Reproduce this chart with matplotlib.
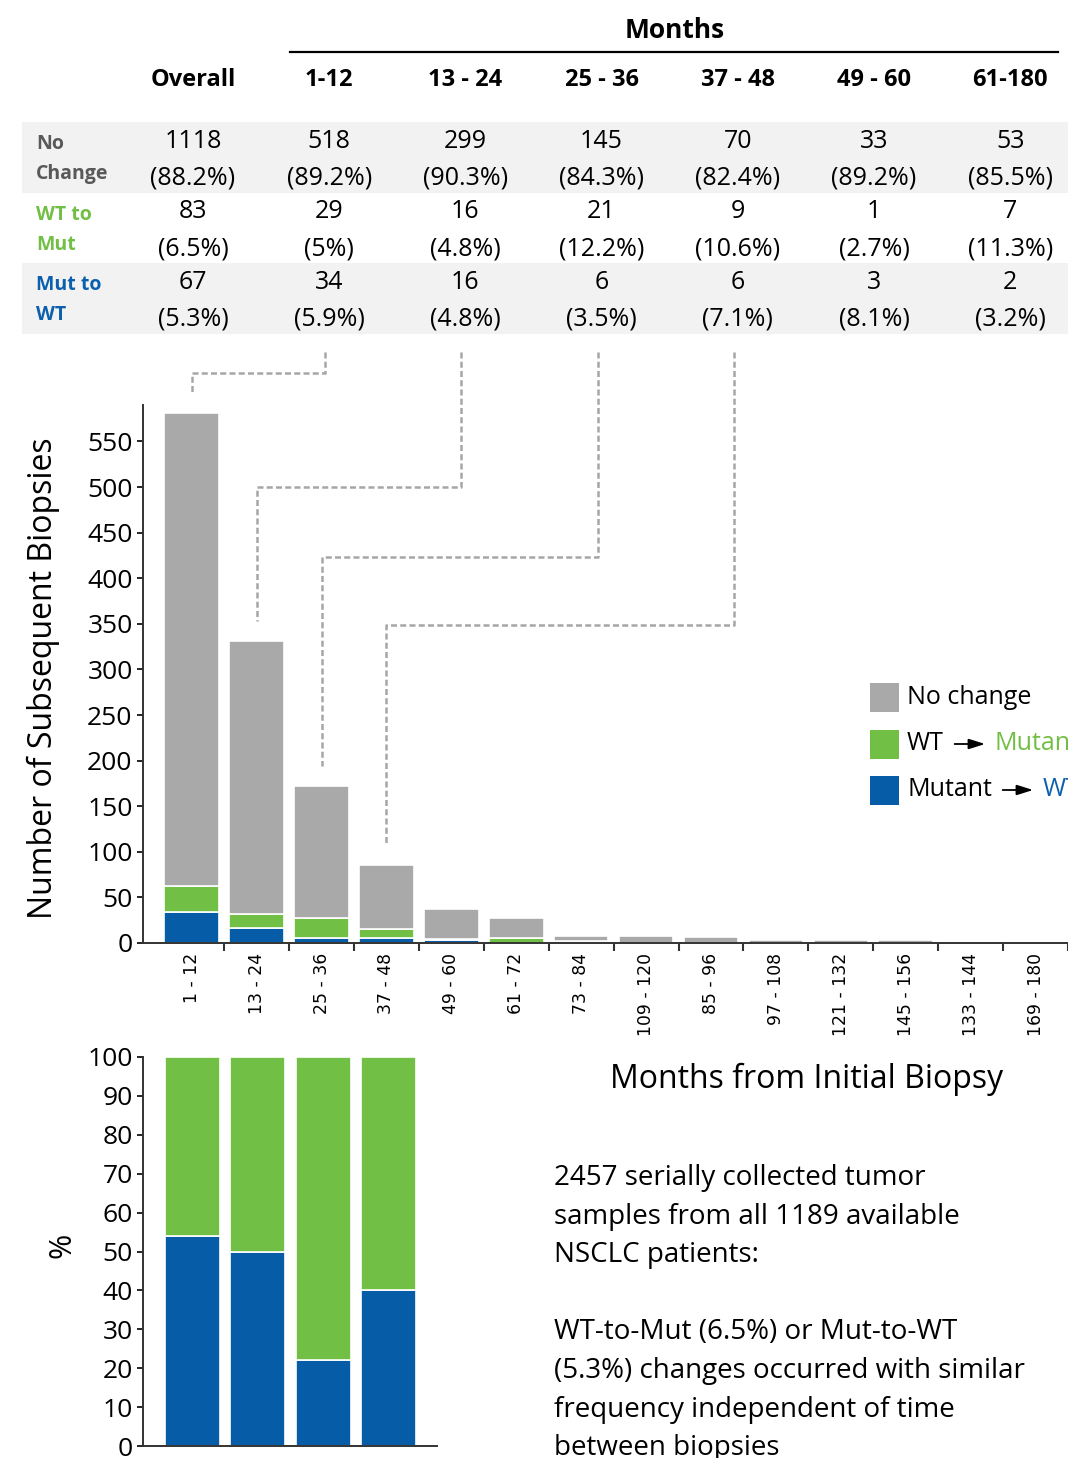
import matplotlib
matplotlib.use('Agg')
import matplotlib.pyplot as plt
from matplotlib.patches import Rectangle, FancyArrowPatch
from matplotlib.lines import Line2D

W, H = 1068, 1458

# summary table
col_labels = ['Overall', '1-12', '13 - 24', '25 - 36', '37 - 48', '49 - 60', '61-180']
row_labels = [('No', 'Change'), ('WT to', 'Mut'), ('Mut to', 'WT')]
no_change_n = [1118, 518, 299, 145, 70, 33, 53]
no_change_pct = ['88.2%', '89.2%', '90.3%', '84.3%', '82.4%', '89.2%', '85.5%']
wt_mut_n = [83, 29, 16, 21, 9, 1, 7]
wt_mut_pct = ['6.5%', '5%', '4.8%', '12.2%', '10.6%', '2.7%', '11.3%']
mut_wt_n = [67, 34, 16, 6, 6, 3, 2]
mut_wt_pct = ['5.3%', '5.9%', '4.8%', '3.5%', '7.1%', '8.1%', '3.2%']

# stacked bar chart (months from initial biopsy)
bins = ['1 - 12', '13 - 24', '25 - 36', '37 - 48', '49 - 60', '61 - 72', '73 - 84',
        '109 - 120', '85 - 96', '97 - 108', '121 - 132', '145 - 156', '133 - 144', '169 - 180']
mut_to_wt = [34, 16, 6, 6, 3, 0, 0, 0, 0, 0, 0, 0, 0, 0]
wt_to_mut = [29, 16, 21, 9, 1, 6, 2, 0, 0, 0, 0, 0, 0, 0]
no_change = [518, 299, 145, 70, 33, 21, 6, 8, 7, 3.5, 3.5, 3.5, 1, 1]

GRAY = '#a9a9a9'
GREEN = '#72bf45'
BLUE = '#075ca8'
LBL_GRAY = '#595959'
LBL_BLUE = '#0b5fad'

plt.rcParams['font.family'] = ['Open Sans', 'DejaVu Sans']


def fx(x):
    return x / W


def fy(y):
    return 1 - y / H


fig = plt.figure(figsize=(W / 100, H / 100), dpi=100)

# ---- table ----
col_x = [193 + 136.2 * j for j in range(len(col_labels))]
fig.text(fx(675), fy(30), 'Months', ha='center', va='center', fontsize=19, fontweight='bold')
fig.add_artist(Line2D([fx(290), fx(1058)], [fy(52), fy(52)], color='black', lw=1.6,
                      transform=fig.transFigure))
for x, lab in zip(col_x, col_labels):
    fig.text(fx(x), fy(80), lab, ha='center', va='center', fontsize=17, fontweight='bold')

rows = [(no_change_n, no_change_pct, LBL_GRAY),
        (wt_mut_n, wt_mut_pct, GREEN),
        (mut_wt_n, mut_wt_pct, LBL_BLUE)]
row_h = 70.7
for i, (ns, pcts, c) in enumerate(rows):
    top = 122 + row_h * i
    if i % 2 == 0:
        fig.add_artist(Rectangle((fx(22), fy(top + row_h)), fx(1068) - fx(22), row_h / H,
                                 transform=fig.transFigure, facecolor='#f2f2f2',
                                 edgecolor='none', zorder=0))
    fig.text(fx(36), fy(top + 22), row_labels[i][0], ha='left', va='center',
             fontsize=14, fontweight='bold', color=c)
    fig.text(fx(36), fy(top + 52), row_labels[i][1], ha='left', va='center',
             fontsize=14, fontweight='bold', color=c)
    for x, n, p in zip(col_x, ns, pcts):
        fig.text(fx(x), fy(top + 19), str(n), ha='center', va='center', fontsize=18)
        fig.text(fx(x), fy(top + 56), '(' + p + ')', ha='center', va='center', fontsize=18)

# ---- main stacked bars ----
ax = fig.add_axes([fx(143), fy(943), 1 - fx(143), (943 - 405) / H])
xs = list(range(len(bins)))
bw = 0.84
ax.bar(xs, mut_to_wt, width=bw, color=BLUE, edgecolor='white', linewidth=1.2)
ax.bar(xs, wt_to_mut, width=bw, bottom=mut_to_wt, color=GREEN, edgecolor='white', linewidth=1.2)
base2 = [a + b for a, b in zip(mut_to_wt, wt_to_mut)]
ax.bar(xs, no_change, width=bw, bottom=base2, color=GRAY, edgecolor='white', linewidth=1.2)
totals = [a + b for a, b in zip(base2, no_change)]

ax.set_xlim(-0.75, 13.37)
ax.set_ylim(0, 590)
ax.set_yticks(range(0, 551, 50))
ax.tick_params(axis='y', labelsize=19, length=4.5, width=1.2, pad=3)
ax.set_xticks(xs)
ax.set_xticklabels(bins, rotation=90, fontsize=12.4, family='DejaVu Sans')
ax.set_xticks([x + 0.5 for x in xs], minor=True)
ax.tick_params(axis='x', which='major', length=0, pad=7)
ax.tick_params(axis='x', which='minor', length=6, width=1.5, color='#333333')
for s in ['top', 'right']:
    ax.spines[s].set_visible(False)
for s in ['left', 'bottom']:
    ax.spines[s].set_linewidth(1.4)
    ax.spines[s].set_color('#333333')

fig.text(fx(43), fy(678), 'Number of Subsequent Biopsies', rotation=90,
         ha='center', va='center', fontsize=23)

# legend
leg_items = [(GRAY, 697), (GREEN, 744), (BLUE, 790)]
for c, yc in leg_items:
    fig.add_artist(Rectangle((fx(870), fy(yc + 14.5)), 29 / W, 29 / H,
                             transform=fig.transFigure, facecolor=c, edgecolor='none'))
fig.text(fx(907), fy(697), 'No change', ha='left', va='center', fontsize=18)

renderer = fig.canvas.get_renderer()
inv = fig.transFigure.inverted()


def arrow_label(left, right, colour, yc):
    t = fig.text(fx(907), fy(yc), left, ha='left', va='center', fontsize=18)
    x0 = t.get_window_extent(renderer).x1 + 8
    x1 = x0 + 36
    y = fig.transFigure.transform((0, fy(yc)))[1]
    p0 = inv.transform((x0, y))
    p1 = inv.transform((x1, y))
    fig.add_artist(FancyArrowPatch(p0, p1, transform=fig.transFigure,
                                   arrowstyle='-|>,head_length=0.7,head_width=0.22',
                                   mutation_scale=14, color='black', lw=1.3))
    fig.text(inv.transform((x1 + 7, y))[0], fy(yc), right, ha='left', va='center',
             fontsize=18, color=colour)


arrow_label('WT', 'Mutant', GREEN, 744)
arrow_label('Mutant', 'WT', LBL_BLUE, 790)

# dashed connectors from table columns to bars
for i in range(4):
    bx, by = ax.transData.transform((xs[i], totals[i] + 22))
    bx, by = inv.transform((bx, by))
    tx = fx(col_x[i + 1] - 4)
    mid = fy([373, 487, 557, 625][i])
    fig.add_artist(Line2D([tx, tx, bx, bx], [fy(352), mid, mid, by],
                          transform=fig.transFigure, color='#a6a6a6', lw=1.8,
                          linestyle=(0, (2.4, 1.3))))

# ---- percentage chart ----
ax2 = fig.add_axes([fx(143), fy(1446), fx(437) - fx(143), (1446 - 1057) / H])
xs2 = xs[:4]
pct_mut = [100 * m / (m + w) for m, w in zip(mut_to_wt[:4], wt_to_mut[:4])]
pct_wt = [100 - p for p in pct_mut]
ax2.bar(xs2, pct_mut, width=bw, color=BLUE, edgecolor='white', linewidth=1.2)
ax2.bar(xs2, pct_wt, width=bw, bottom=pct_mut, color=GREEN, edgecolor='white', linewidth=1.2)
ax2.set_xlim(-0.75, 3.74)
ax2.set_ylim(0, 100)
ax2.set_yticks(range(0, 101, 10))
ax2.set_xticks([])
ax2.tick_params(axis='y', labelsize=19, length=4.5, width=1.2, pad=3)
for s in ['top', 'right']:
    ax2.spines[s].set_visible(False)
for s in ['left', 'bottom']:
    ax2.spines[s].set_linewidth(1.4)
    ax2.spines[s].set_color('#333333')
fig.text(fx(62), fy(1245), '%', rotation=90, ha='center', va='center', fontsize=22)

fig.text(fx(807), fy(1079), 'Months from Initial Biopsy', ha='center', va='center', fontsize=23)

note = ['2457 serially collected tumor',
        'samples from all 1189 available',
        'NSCLC patients:',
        '',
        'WT-to-Mut (6.5%) or Mut-to-WT',
        '(5.3%) changes occurred with similar',
        'frequency independent of time',
        'between biopsies']
for k, line in enumerate(note):
    fig.text(fx(554), fy(1178 + 38.6 * k), line, ha='left', va='center', fontsize=20)

fig.savefig('out.png', dpi=100)
